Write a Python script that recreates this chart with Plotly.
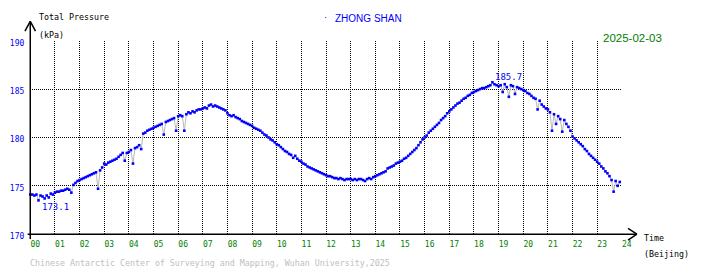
import plotly.graph_objects as go

# Total pressure (kPa), 5-minute samples, one row per hour 00..23
hour00 = [174.1, 174.1, 174.0, 174.1, 173.5, 174.0, 173.9, 173.7, 174.0, 173.8, 174.2, 174.1]
hour01 = [174.3, 174.4, 174.4, 174.5, 174.5, 174.6, 174.7, 174.6, 174.3, 175.1, 175.3, 175.5]
hour02 = [175.6, 175.7, 175.8, 175.9, 176.0, 176.1, 176.2, 176.3, 176.4, 174.7, 176.6, 176.9]
hour03 = [177.3, 177.2, 177.4, 177.5, 177.6, 177.7, 177.8, 178.0, 178.2, 178.4, 177.6, 178.4]
hour04 = [178.5, 178.7, 177.3, 178.9, 179.0, 179.2, 178.8, 180.4, 180.5, 180.7, 180.8, 180.9]
hour05 = [181.0, 181.1, 181.2, 181.3, 181.4, 180.3, 181.6, 181.7, 181.8, 181.9, 182.0, 180.7]
hour06 = [182.2, 182.3, 182.2, 180.7, 182.4, 182.6, 182.5, 182.7, 182.6, 182.8, 182.9, 182.9]
hour07 = [183.0, 183.1, 183.0, 183.3, 183.4, 183.2, 183.3, 183.2, 183.1, 183.0, 182.9, 182.8]
hour08 = [182.5, 182.3, 182.2, 182.3, 182.1, 182.0, 181.9, 181.7, 181.6, 181.5, 181.4, 181.3]
hour09 = [181.2, 181.0, 180.9, 180.8, 180.7, 180.5, 180.3, 180.2, 180.0, 179.8, 179.7, 179.5]
hour10 = [179.3, 179.2, 179.0, 178.8, 178.6, 178.5, 178.3, 178.2, 177.9, 178.1, 177.8, 177.6]
hour11 = [177.5, 177.3, 177.2, 177.0, 176.9, 176.8, 176.7, 176.6, 176.5, 176.4, 176.3, 176.2]
hour12 = [176.1, 176.0, 176.0, 175.9, 175.8, 175.8, 175.7, 175.8, 175.7, 175.6, 175.7, 175.7]
hour13 = [175.7, 175.6, 175.7, 175.6, 175.7, 175.7, 175.6, 175.5, 175.7, 175.8, 175.7, 175.9]
hour14 = [176.0, 176.1, 176.2, 176.3, 176.4, 176.5, 176.8, 176.9, 177.0, 177.1, 177.3, 177.4]
hour15 = [177.5, 177.6, 177.8, 177.9, 178.1, 178.3, 178.5, 178.7, 178.9, 179.2, 179.5, 179.8]
hour16 = [180.0, 180.2, 180.5, 180.7, 180.9, 181.1, 181.3, 181.5, 181.8, 182.0, 182.2, 182.5]
hour17 = [182.7, 182.9, 183.1, 183.3, 183.5, 183.6, 183.8, 184.0, 184.1, 184.3, 184.4, 184.6]
hour18 = [184.7, 184.8, 184.9, 185.0, 185.1, 185.1, 185.2, 185.3, 185.4, 185.7, 185.5, 185.4]
hour19 = [185.3, 185.4, 184.7, 185.5, 185.2, 184.2, 185.4, 185.3, 184.5, 185.2, 185.1, 185.0]
hour20 = [184.9, 184.8, 184.6, 184.5, 184.3, 184.1, 184.0, 182.9, 183.8, 183.4, 183.2, 183.0]
hour21 = [182.9, 182.6, 180.7, 182.4, 181.4, 182.2, 181.9, 180.6, 181.8, 181.4, 181.1, 180.7]
hour22 = [180.1, 179.9, 179.7, 179.5, 179.3, 179.1, 178.8, 178.6, 178.3, 178.1, 177.9, 177.7]
hour23 = [177.5, 177.3, 177.0, 176.8, 176.5, 176.3, 176.0, 175.6, 174.4, 175.5, 175.0, 175.4]

hours_rows = [hour00, hour01, hour02, hour03, hour04, hour05, hour06, hour07,
              hour08, hour09, hour10, hour11, hour12, hour13, hour14, hour15,
              hour16, hour17, hour18, hour19, hour20, hour21, hour22, hour23]
minutes = [0, 5, 10, 15, 20, 25, 30, 35, 40, 45, 50, 55]

x_tick_vals = list(range(0, 25))
x_tick_text = ["%02d" % h for h in x_tick_vals]
y_tick_vals = [170, 175, 180, 185, 190]
y_tick_text = ["170", "175", "180", "185", "190"]

min_label = "173.1"
max_label = "185.7"
station = "ZHONG SHAN"
date_text = "2025-02-03"

times = []
values = []
for h, row in enumerate(hours_rows):
    for m, v in zip(minutes, row):
        times.append(h + m / 60.0)
        values.append(v)

W, H = 710, 278
def px(x):
    return x / W
def py(y):
    return 1 - y / H

x0, x1 = 30.7, 630.7
ytop, ybot = 40, 240

fig = go.Figure()
fig.add_trace(go.Scatter(
    x=times, y=values, mode="lines+markers",
    line=dict(color="#b8b8b8", width=1),
    marker=dict(color="#0000ff", size=2.6, symbol="square", line=dict(width=0)),
    showlegend=False, hoverinfo="skip", cliponaxis=False,
))

mono = "DejaVu Sans Mono"
sans = "Liberation Sans"

fig.update_layout(
    width=W, height=H,
    margin=dict(l=0, r=0, t=0, b=0),
    paper_bgcolor="white", plot_bgcolor="white",
    xaxis=dict(
        domain=[px(x0), px(x1)], range=[0, 24],
        tickvals=x_tick_vals, ticktext=x_tick_text,
        tickfont=dict(family=mono, size=8, color="#008000"),
        showgrid=True, gridcolor="black", griddash="1px,1px", gridwidth=1,
        zeroline=False, showline=False, ticks="",
        ticklabelshift=5, ticklabelstandoff=4,
    ),
    yaxis=dict(
        domain=[py(ybot), py(ytop)], range=[170, 190],
        tickvals=y_tick_vals, ticktext=y_tick_text,
        tickfont=dict(family=mono, size=8, color="#0000ff"),
        showgrid=True, gridcolor="black", griddash="1px,1px", gridwidth=1,
        zeroline=False, showline=False, ticks="",
        ticklabelshift=2, ticklabelstandoff=5,
    ),
)

def seg(xa, ya, xb, yb, color="black"):
    return dict(type="line", xref="paper", yref="paper",
                x0=px(xa), y0=py(ya), x1=px(xb), y1=py(yb),
                line=dict(color=color, width=1.5), layer="above")

shapes = [
    seg(x0, 20, x0, 245),          # y axis
    seg(x0, 20, 25.3, 30),         # y arrow
    seg(x0, 20, 36, 30),
    seg(28, ybot, 646, ybot),      # x axis
    seg(637, 234, 646, 240),       # x arrow
    seg(637, 246, 646, 240),
]
fig.update_layout(shapes=shapes)

def ann(text, xpx, ypx, color="black", family=mono, size=8.3, bg=None):
    d = dict(text=text, xref="paper", yref="paper", x=px(xpx), y=py(ypx),
             xanchor="left", yanchor="middle", showarrow=False,
             font=dict(family=family, size=size, color=color), borderpad=0)
    if bg:
        d["bgcolor"] = bg
    return d

annotations = [
    ann("Total Pressure", 39, 16),
    ann("(kPa)", 39, 34),
    ann("·", 328, 15, color="#0000ff", family=sans, size=9),
    ann(station, 339, 17, color="#0000ff", family=sans, size=10),
    ann(date_text, 611, 37, color="#008000", family=sans, size=11.5, bg="white"),
    ann("Time", 652, 244),
    ann("(Beijing)", 652, 260),
    ann("Chinese Antarctic Center of Surveying and Mapping, Wuhan University,2025",
        29, 270, color="#c0c0c0"),
    dict(text=min_label, x=0.41, y=172.8, xref="x", yref="y", xanchor="left",
         yanchor="middle", showarrow=False,
         font=dict(family=mono, size=9, color="#0000ff")),
    dict(text=max_label, x=18.77, y=186.2, xref="x", yref="y", xanchor="left",
         yanchor="middle", showarrow=False,
         font=dict(family=mono, size=9, color="#0000ff")),
]
fig.update_layout(annotations=annotations)

fig.write_html(
    "out.html",
    config={"displayModeBar": False},
    post_script="document.body.style.margin='0';document.body.style.overflow='hidden';",
)
